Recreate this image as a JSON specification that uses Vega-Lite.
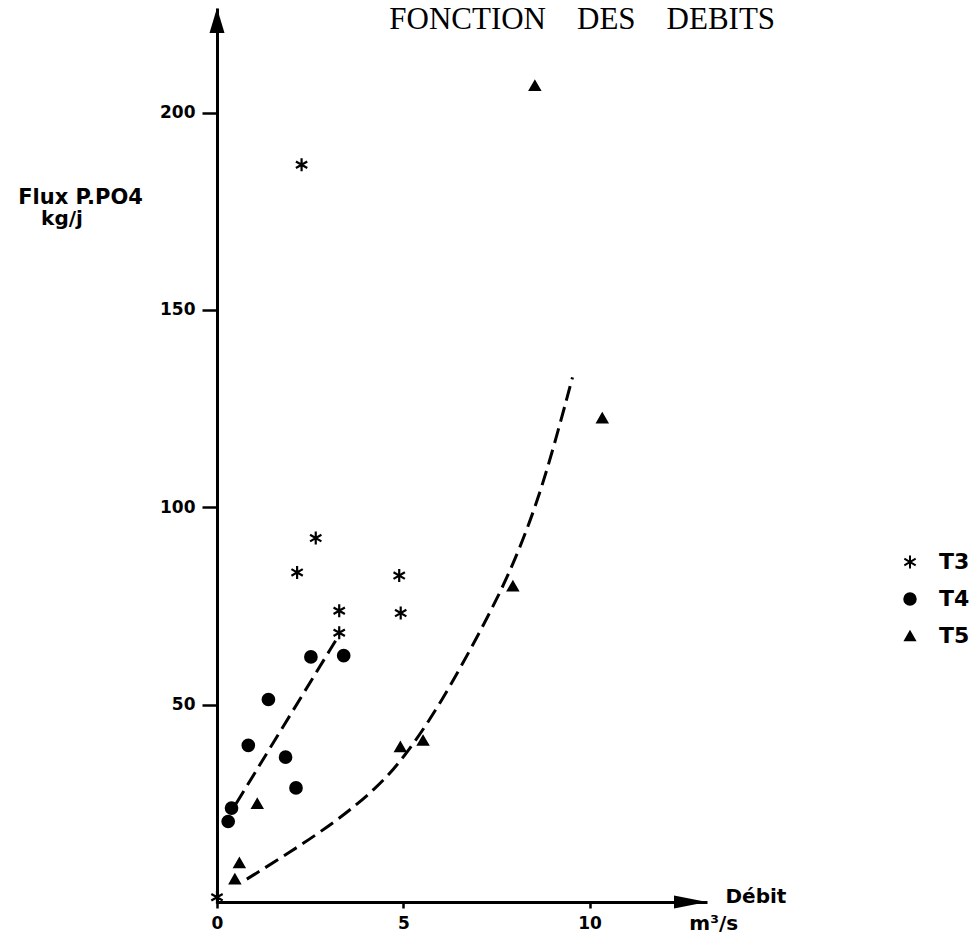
{
  "$schema": "https://vega.github.io/schema/vega-lite/v6.json",
  "width": 490,
  "height": 894,
  "autosize": {"type": "none"},
  "padding": {"left": 217, "top": 8, "right": 272, "bottom": 44},
  "background": "white",
  "datasets": {
    "pts": [
      {"station": "T3", "debit": 0, "flux": 1.2},
      {"station": "T3", "debit": 2.27, "flux": 186.8},
      {"station": "T3", "debit": 2.65, "flux": 92.2},
      {"station": "T3", "debit": 2.15, "flux": 83.5},
      {"station": "T3", "debit": 4.89, "flux": 82.7},
      {"station": "T3", "debit": 3.28, "flux": 73.8},
      {"station": "T3", "debit": 4.93, "flux": 73.2},
      {"station": "T3", "debit": 3.28, "flux": 68.2},
      {"station": "T4", "debit": 2.52, "flux": 62.1},
      {"station": "T4", "debit": 3.4, "flux": 62.4},
      {"station": "T4", "debit": 1.38, "flux": 51.3},
      {"station": "T4", "debit": 0.84, "flux": 39.7},
      {"station": "T4", "debit": 1.84, "flux": 36.7},
      {"station": "T4", "debit": 2.12, "flux": 28.9},
      {"station": "T4", "debit": 0.39, "flux": 23.8},
      {"station": "T4", "debit": 0.3, "flux": 20.4},
      {"station": "T5", "debit": 1.08, "flux": 24.9},
      {"station": "T5", "debit": 4.92, "flux": 39.3},
      {"station": "T5", "debit": 5.53, "flux": 40.9},
      {"station": "T5", "debit": 0.6, "flux": 9.9},
      {"station": "T5", "debit": 0.48, "flux": 5.8},
      {"station": "T5", "debit": 8.53, "flux": 206.8},
      {"station": "T5", "debit": 10.34, "flux": 122.6},
      {"station": "T5", "debit": 7.94, "flux": 80.0}
    ],
    "fits": [
      {"curve": "T4", "debit": 0.51, "flux": 24.9},
      {"curve": "T4", "debit": 1.78, "flux": 44.5},
      {"curve": "T4", "debit": 3.28, "flux": 67.7},
      {"curve": "T5", "debit": 0.8, "flux": 5.8},
      {"curve": "T5", "debit": 1.96, "flux": 12.6},
      {"curve": "T5", "debit": 3.21, "flux": 20.5},
      {"curve": "T5", "debit": 4.28, "flux": 28.8},
      {"curve": "T5", "debit": 5.0, "flux": 36.3},
      {"curve": "T5", "debit": 5.98, "flux": 49.8},
      {"curve": "T5", "debit": 7.14, "flux": 69.8},
      {"curve": "T5", "debit": 7.86, "flux": 83.4},
      {"curve": "T5", "debit": 8.53, "flux": 99.4},
      {"curve": "T5", "debit": 9.02, "flux": 114.6},
      {"curve": "T5", "debit": 9.54, "flux": 132.9}
    ]
  },
  "layer": [
    {
      "data": {"name": "fits"},
      "mark": {"type": "line", "color": "black", "strokeWidth": 3, "strokeDash": [15, 7], "interpolate": "basis"},
      "encoding": {
        "x": {
          "field": "debit", "type": "quantitative",
          "scale": {"domain": [0, 13.15], "nice": false, "zero": false},
          "axis": {
            "values": [0, 5, 10], "format": "d", "grid": false,
            "domainColor": "black", "domainWidth": 3,
            "tickColor": "black", "tickSize": 6, "tickWidth": 2.5,
            "labelFont": "DejaVu Sans", "labelFontSize": 17, "labelFontWeight": "bold", "labelColor": "black", "labelPadding": 7, "labelFlush": false,
            "title": "Débit",
            "titleX": 508, "titleY": 0, "titleAlign": "left", "titleBaseline": "alphabetic", "titleAngle": 0,
            "titleFont": "DejaVu Sans", "titleFontSize": 20, "titleFontWeight": "bold", "titleColor": "black"
          }
        },
        "y": {
          "field": "flux", "type": "quantitative",
          "scale": {"domain": [0, 226.5], "nice": false},
          "axis": {
            "values": [50, 100, 150, 200], "grid": false,
            "domainColor": "black", "domainWidth": 3,
            "tickColor": "black", "tickSize": 15, "tickWidth": 2.5,
            "labelFont": "DejaVu Sans", "labelFontSize": 17, "labelFontWeight": "bold", "labelColor": "black", "labelPadding": 7,
            "title": "Flux P.PO4",
            "titleX": -137, "titleY": 195, "titleAlign": "center", "titleBaseline": "alphabetic", "titleAngle": 0,
            "titleFont": "DejaVu Sans", "titleFontSize": 21, "titleFontWeight": "bold", "titleColor": "black"
          }
        },
        "detail": {"field": "curve", "type": "nominal"}
      }
    },
    {
      "data": {"name": "pts"},
      "mark": {"type": "point", "filled": true, "color": "black", "stroke": "black", "strokeWidth": 2.2, "opacity": 1},
      "encoding": {
        "x": {"field": "debit", "type": "quantitative"},
        "y": {"field": "flux", "type": "quantitative"},
        "shape": {
          "field": "station", "type": "nominal",
          "scale": {"domain": ["T3", "T4", "T5"], "range": ["M0,-1L0,1M-0.87,-0.5L0.87,0.5M-0.87,0.5L0.87,-0.5", "circle", "triangle-up"]},
          "legend": {
            "orient": "none", "legendX": 682, "legendY": 543, "title": null, "padding": 0,
            "labelFont": "DejaVu Sans", "labelFontSize": 22, "labelFontWeight": "bold", "labelColor": "black", "labelOffset": 18,
            "symbolStrokeWidth": 2, "symbolFillColor": "black", "symbolStrokeColor": "black",
            "rowPadding": 15
          }
        },
        "size": {
          "field": "station", "type": "nominal",
          "scale": {"domain": ["T3", "T4", "T5"], "range": [170, 94, 156]}
        }
      }
    },
    {
      "data": {"values": [{}]},
      "mark": {"type": "point", "shape": "M0,0L-0.5,1.67L0.5,1.67Z", "size": 900, "filled": true, "color": "black", "opacity": 1},
      "encoding": {"x": {"datum": 0}, "y": {"datum": 226.5}}
    },
    {
      "data": {"values": [{}]},
      "mark": {"type": "point", "shape": "M0,0L-2.2,-0.43L-2.2,0.43Z", "size": 900, "filled": true, "color": "black", "opacity": 1},
      "encoding": {"x": {"datum": 13.15}, "y": {"datum": 0}}
    },
    {
      "data": {"values": [{}]},
      "mark": {"type": "text", "font": "Liberation Serif", "fontSize": 31, "color": "black", "align": "center", "baseline": "alphabetic"},
      "encoding": {"x": {"datum": 9.8}, "y": {"datum": 221.3}, "text": {"value": "FONCTION\u00a0\u00a0\u00a0\u00a0DES\u00a0\u00a0\u00a0\u00a0DEBITS"}}
    },
    {
      "data": {"values": [{}]},
      "mark": {"type": "text", "font": "DejaVu Sans", "fontSize": 20, "fontWeight": "bold", "color": "black", "align": "center", "baseline": "alphabetic"},
      "encoding": {"x": {"datum": -4.16}, "y": {"datum": 171.4}, "text": {"value": "kg/j"}}
    },
    {
      "data": {"values": [{}]},
      "mark": {"type": "text", "font": "DejaVu Sans", "fontSize": 20, "fontWeight": "bold", "color": "black", "align": "center", "baseline": "alphabetic"},
      "encoding": {"x": {"datum": 13.33}, "y": {"datum": -7.1}, "text": {"value": "m³/s"}}
    }
  ],
  "config": {"view": {"stroke": null}}
}
